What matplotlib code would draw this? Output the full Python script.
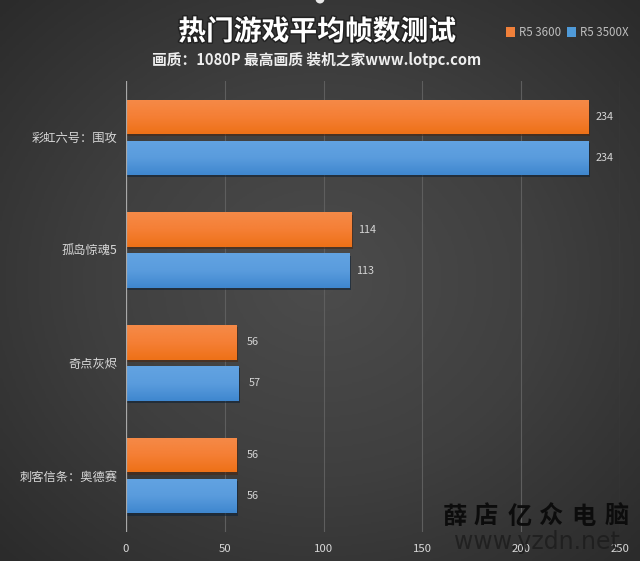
import matplotlib
matplotlib.use("Agg")
import matplotlib.pyplot as plt
import matplotlib.patheffects as pe
from matplotlib.colors import LinearSegmentedColormap
from matplotlib.patches import Rectangle, Ellipse
import numpy as np

plt.rcParams['font.family'] = ['Noto Sans CJK SC', 'DejaVu Sans']

games = ["彩虹六号：围攻", "孤岛惊魂5", "奇点灰烬", "刺客信条：奥德赛"]
r5_3600 = [234, 114, 56, 56]
r5_3500x = [234, 113, 57, 56]
xticks = [0, 50, 100, 150, 200, 250]
series_names = ["R5 3600", "R5 3500X"]

W, H = 640, 561
fig = plt.figure(figsize=(W / 100, H / 100), dpi=100)

# background radial gradient
bg = fig.add_axes([0, 0, 1, 1], zorder=0)
bg.axis("off")
yy, xx = np.mgrid[0:1:200j, 0:1:200j]
dist = np.sqrt((xx - 0.5) ** 2 + (yy - 0.5) ** 2) / 0.707
bg_cmap = LinearSegmentedColormap.from_list("bg", ["#4c4c4c", "#3f3f3f", "#2b2b2b"])
bg.imshow(dist, cmap=bg_cmap, aspect="auto", extent=[0, 1, 0, 1], vmin=0, vmax=1)

ax = fig.add_axes([126 / W, 1 - 532 / H, (620 - 126) / W, (532 - 81) / H], zorder=1)
ax.patch.set_alpha(0)
for s in ax.spines.values():
    s.set_visible(False)

orange = LinearSegmentedColormap.from_list("o", ["#f58a48", "#f57f35", "#ee7117"])
blue = LinearSegmentedColormap.from_list("b", ["#62a3e2", "#5a9cdd", "#3f87cf"])
grad = np.linspace(0, 1, 64).reshape(-1, 1)


def draw_bars(ys, values, cmap, edge):
    bars = ax.barh(ys, values, height=0.305, color="none", zorder=3)
    for bar, v in zip(bars, values):
        x0, y0 = bar.get_x(), bar.get_y()
        w, h = bar.get_width(), bar.get_height()
        # soft shadow just below and right of the bar
        ax.add_patch(Rectangle((x0, y0 + 0.02), w + 0.8, h, color=edge, alpha=0.6, lw=0, zorder=2))
        im = ax.imshow(grad, cmap=cmap, aspect="auto", zorder=3,
                       extent=[x0, x0 + w, y0 + h, y0])
        im.set_clip_path(bar)
        ax.text(v + 8, y0 + h / 2, str(v), color="#d4d4d4", fontsize=7.8, va="center", ha="center", zorder=4)


ypos = np.arange(len(games))
draw_bars(ypos - 0.182, r5_3600, orange, "#4a2813")
draw_bars(ypos + 0.182, r5_3500x, blue, "#0f2236")

ax.set_xlim(0, 250)
ax.set_ylim(len(games) - 0.5, -0.5)
ax.set_xticks(xticks)
ax.set_yticks(ypos)
ax.set_yticklabels(games)
ax.tick_params(axis="x", length=0, pad=9, labelsize=8.2, labelcolor="#d8d8d8")
ax.tick_params(axis="y", length=0, pad=6, labelsize=8.8, labelcolor="#d8d8d8")
ax.grid(axis="x", color="#5e5e5e", lw=0.8, zorder=1)
ax.axvline(0, color="#a8a8a8", lw=0.9, zorder=4)

shadow = [pe.withStroke(linewidth=2.2, foreground="#222222")]
fig.text(317 / W, 1 - 32 / H, "热门游戏平均帧数测试", color="white", fontsize=20, fontweight="bold",
         ha="center", va="center", path_effects=shadow, zorder=5)
fig.text(317 / W, 1 - 60 / H, "画质：1080P 最高画质 装机之家www.lotpc.com", color="#eeeeee", fontsize=10.6,
         fontweight="bold", ha="center", va="center", zorder=5)

# legend
for px, tx, col, name in zip([506, 567], [519, 580], ["#f0803a", "#4f9ad8"], series_names):
    fig.add_artist(Rectangle((px / W, 1 - 37 / H), 9 / W, 10 / H, color=col, lw=0, transform=fig.transFigure))
    fig.text(tx / W, 1 - 33 / H, name, color="#bdbdbd", fontsize=8.3, va="center", ha="left", zorder=5)

# small white dot cut off at the top edge
fig.add_artist(Ellipse((320 / W, 1 + 1 / H), 9 / W, 9 / H, color="#e8e8e8", lw=0, transform=fig.transFigure))

# watermark
for px, ch in zip([455, 486, 520, 551, 583, 617], "薛店亿众电脑"):
    fig.text(px / W, 1 - 517 / H, ch, color="#0c0c0c", fontsize=17.5, fontweight="bold",
             family=["Noto Sans CJK SC"], ha="center", va="center", zorder=6)
fig.text(537 / W, 1 - 542 / H, "www.yzdn.net", color="#1c1c1c", alpha=0.8, fontsize=17,
         family=["DejaVu Sans"], ha="center", va="center", zorder=6)

fig.savefig("out.png", dpi=100)
